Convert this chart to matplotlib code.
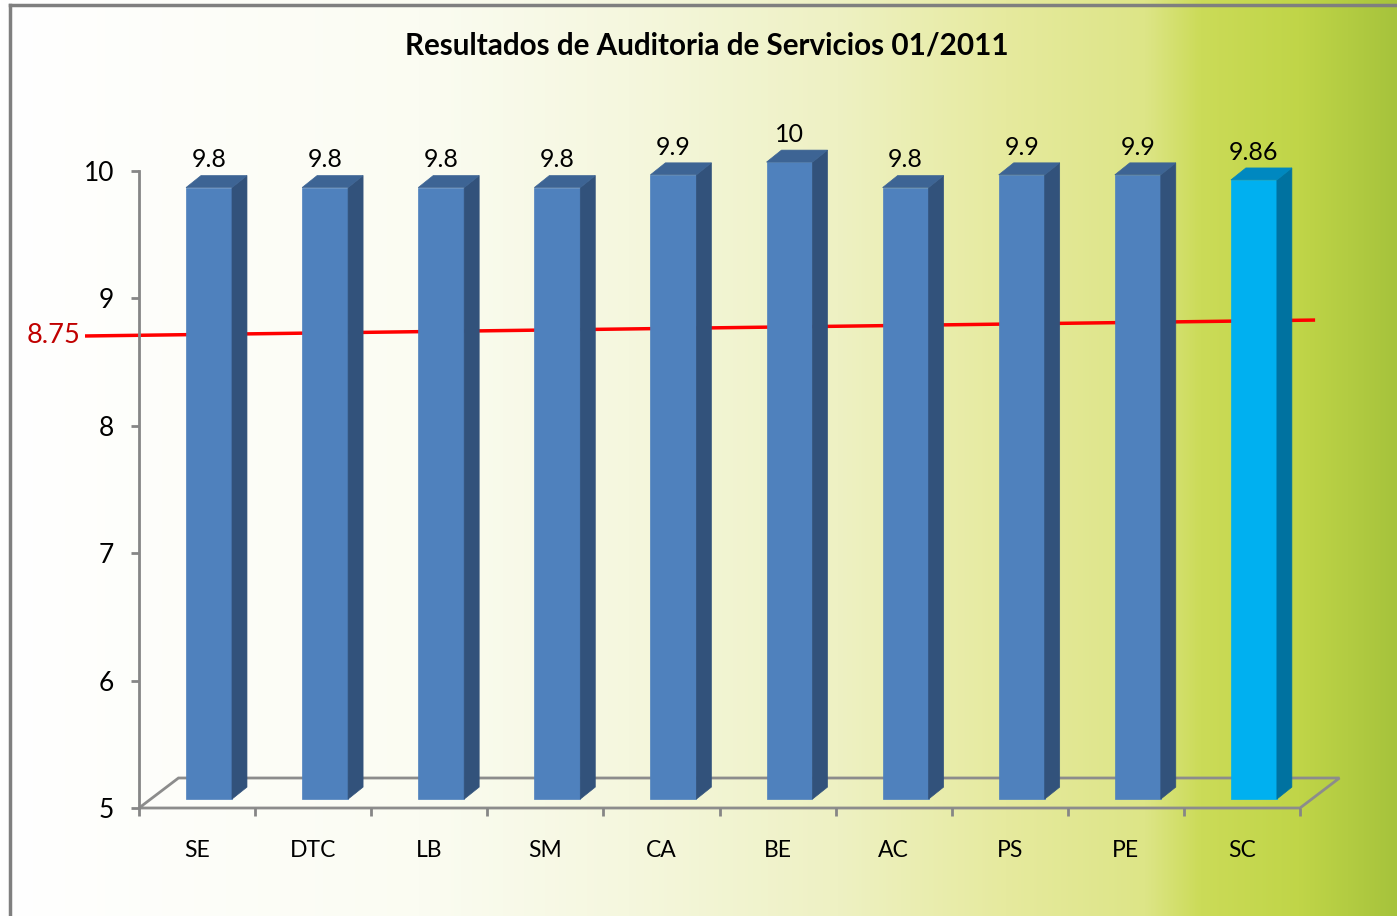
import numpy as np
import matplotlib
matplotlib.use('Agg')
import matplotlib.pyplot as plt
from matplotlib.patches import Polygon
from matplotlib.lines import Line2D
from matplotlib.colors import to_rgb

categories = ['SE', 'DTC', 'LB', 'SM', 'CA', 'BE', 'AC', 'PS', 'PE', 'SC']
scores = [9.8, 9.8, 9.8, 9.8, 9.9, 10, 9.8, 9.9, 9.9, 9.86]
score_labels = ['9.8', '9.8', '9.8', '9.8', '9.9', '10', '9.8', '9.9', '9.9', '9.86']
highlight = 'SC'
target = 8.75
y_ticks = [5, 6, 7, 8, 9, 10]

plt.rcParams['font.family'] = ['Lato', 'DejaVu Sans']

fig = plt.figure(figsize=(13.97, 9.16), dpi=100)

# background: white on the left fading to yellow-green on the right
bg = fig.add_axes([0, 0, 1, 1], zorder=-10)
stops = [(0.0, '#ffffff'), (0.3, '#fbfcf2'), (0.45, '#f5f7de'), (0.6, '#eef1c3'),
         (0.72, '#e6ea9e'), (0.82, '#dde587'), (0.86, '#cbdb58'), (0.93, '#c0d548'),
         (1.0, '#a6c33c')]
xs = np.linspace(0, 1, 1397)
pos = [s[0] for s in stops]
cols = np.array([to_rgb(s[1]) for s in stops])
row = np.stack([np.interp(xs, pos, cols[:, k]) for k in range(3)], axis=1)
img = np.repeat(row[None, :, :], 916, axis=0)
bg.imshow(img, aspect='auto', extent=(0, 1, 0, 1))
bg.axis('off')

# chart frame
fig.add_artist(Line2D([10 / 1397, 1], [1 - 5 / 916] * 2, transform=fig.transFigure,
                      color='#7f7f7f', lw=2.5))
fig.add_artist(Line2D([10 / 1397] * 2, [0, 1 - 5 / 916], transform=fig.transFigure,
                      color='#7f7f7f', lw=2.5))

ax = fig.add_axes([139 / 1397, 108 / 916, 1161 / 1397, 637 / 916])
ax.set_facecolor('none')
ax.set_xlim(-0.5, len(categories) - 0.5)
ax.set_ylim(y_ticks[0], y_ticks[-1])

x = np.arange(len(categories))
shift_x, shift_y = 0.103, 0.07      # bars sit a bit behind the front edge
depth_x, depth_y = 0.129, 0.094     # bar depth
floor_dx, floor_dy = 0.34, 0.2355   # floor depth
bar_w = 0.396

front_c = ['#00b0f0' if c == highlight else '#4f81bd' for c in categories]
side_c = ['#0072a0' if c == highlight else '#32527b' for c in categories]
top_c = ['#0088c0' if c == highlight else '#3d6494' for c in categories]

base = y_ticks[0]
bars = ax.bar(x + shift_x, np.array(scores) - base, bar_w, bottom=base + shift_y,
              color=front_c, edgecolor=front_c, lw=0.5, zorder=3, clip_on=False)
for b, sc, tc, lab in zip(bars, side_c, top_c, score_labels):
    x0, y0 = b.get_x(), b.get_y()
    x1, y1 = x0 + b.get_width(), y0 + b.get_height()
    ax.add_patch(Polygon([(x1, y0), (x1 + depth_x, y0 + depth_y), (x1 + depth_x, y1 + depth_y),
                          (x1, y1)], closed=True, facecolor=sc, edgecolor=sc, lw=0.5,
                         zorder=3, clip_on=False))
    ax.add_patch(Polygon([(x0, y1), (x0 + depth_x, y1 + depth_y), (x1 + depth_x, y1 + depth_y),
                          (x1, y1)], closed=True, facecolor=tc, edgecolor=tc, lw=0.5,
                         zorder=3, clip_on=False))
    ax.annotate(lab, (x0 + b.get_width() / 2, y1 + depth_y), xytext=(0, 3),
                textcoords='offset points', ha='center', va='bottom', fontsize=18,
                color='black', annotation_clip=False)

# floor
xl, xr = -0.5, len(categories) - 0.5
ax.add_patch(Polygon([(xl, base), (xr, base), (xr + floor_dx, base + floor_dy),
                      (xl + floor_dx, base + floor_dy)], closed=True, fill=False,
                     edgecolor='#8c8c8c', lw=2, zorder=1, clip_on=False))

# target line (hand-drawn, slightly tilted)
line_x = (-0.965, 9.63)
line_tilt = (-0.045, 0.08)
ax.plot(line_x, [target + line_tilt[0], target + line_tilt[1]], color='#ff0000', lw=2.5,
        zorder=2, clip_on=False, solid_capstyle='butt')
ax.annotate(f'{target:g}', (line_x[0], target + line_tilt[0]), xytext=(-3, 0),
            textcoords='offset points', ha='right', va='center', fontsize=19.5,
            color='#c00000', annotation_clip=False)

for s in ['top', 'right', 'bottom']:
    ax.spines[s].set_visible(False)
ax.spines['left'].set_color('#868686')
ax.spines['left'].set_linewidth(2)

ax.set_yticks(y_ticks)
ax.set_yticklabels([str(t) for t in y_ticks])
ax.set_xticks(np.arange(len(categories) + 1) - 0.5)
ax.set_xticklabels([])
ax.set_xticks(x, minor=True)
ax.set_xticklabels(categories, minor=True)
ax.tick_params(axis='y', length=5.8, width=2, color='#868686', pad=12, labelsize=19)
ax.tick_params(axis='x', which='major', length=5.8, width=2, color='#868686')
ax.tick_params(axis='x', which='minor', length=0, pad=23, labelsize=16.5)

fig.text(0.506, 1 - 46 / 916, 'Resultados de Auditoria de Servicios 01/2011',
         ha='center', va='center', fontsize=21.3, fontweight='bold')

fig.savefig('out.png', dpi=100)
